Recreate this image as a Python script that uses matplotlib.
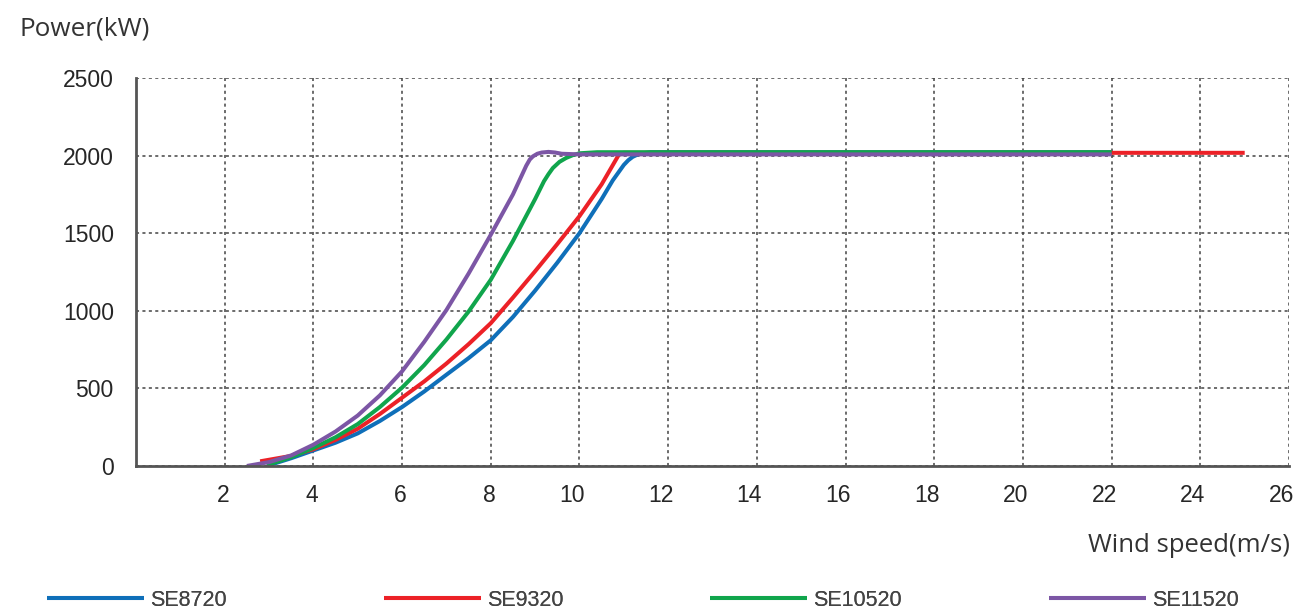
import matplotlib.pyplot as plt
import matplotlib.transforms as mtransforms

# power curves (wind speed m/s -> kW)
se8720_ws = [3.0, 3.5, 4.0, 4.5, 5.0, 5.5, 6.0, 6.5, 7.0, 7.5, 8.0, 8.5, 9.0, 9.5, 10.0, 10.5, 10.75, 10.9, 11.0, 11.1, 11.2, 11.35, 11.6, 22.0]
se8720_kw = [5, 50, 100, 150, 210, 290, 380, 480, 588, 695, 810, 960, 1130, 1310, 1500, 1720, 1840, 1900, 1940, 1970, 1992, 2012, 2022, 2022]

se9320_ws = [2.8, 3.0, 3.5, 4.0, 4.5, 5.0, 5.5, 6.0, 6.5, 7.0, 7.5, 8.0, 8.5, 9.0, 9.5, 10.0, 10.5, 10.9, 11.0, 25.0]
se9320_kw = [30, 40, 65, 108, 168, 240, 335, 440, 545, 660, 785, 920, 1085, 1255, 1430, 1610, 1815, 2012, 2018, 2018]

se10520_ws = [2.95, 3.5, 4.0, 4.5, 5.0, 5.5, 6.0, 6.5, 7.0, 7.5, 8.0, 8.5, 9.0, 9.2, 9.3, 9.4, 9.55, 9.7, 9.85, 10.0, 10.4, 22.0]
se10520_kw = [5, 57, 116, 185, 270, 380, 505, 650, 815, 995, 1200, 1450, 1720, 1835, 1880, 1920, 1960, 1985, 2003, 2015, 2022, 2022]

se11520_ws = [2.5, 3.0, 3.5, 4.0, 4.5, 5.0, 5.5, 6.0, 6.5, 7.0, 7.5, 8.0, 8.5, 8.8, 8.88, 8.95, 9.05, 9.15, 9.3, 9.45, 9.6, 10.0, 22.0]
se11520_kw = [0, 25, 68, 137, 222, 325, 455, 610, 800, 1005, 1240, 1490, 1750, 1935, 1975, 1995, 2012, 2020, 2024, 2020, 2012, 2008, 2008]

names = ["SE8720", "SE9320", "SE10520", "SE11520"]
colors = ["#0f6fb9", "#ec2127", "#10a54c", "#7c56a5"]
legend_centers = [137, 474, 806, 1144]  # pixel centres of the legend entries

x_ticks = [2, 4, 6, 8, 10, 12, 14, 16, 18, 20, 22, 24, 26]
y_ticks = [0, 500, 1000, 1500, 2000, 2500]

fig = plt.figure(figsize=(12.95, 6.12), dpi=100)
ax = fig.add_axes([0.105, 0.2386, 0.8904, 0.6339])

series = [(se8720_ws, se8720_kw), (se9320_ws, se9320_kw),
          (se10520_ws, se10520_kw), (se11520_ws, se11520_kw)]
handles = []
for (ws, kw), name, c in zip(series, names, colors):
    h, = ax.plot(ws, kw, color=c, lw=2.9, label=name, solid_capstyle="butt")
    handles.append(h)

ax.set_xlim(0, 26)
ax.set_ylim(0, 2500)
ax.set_xticks(x_ticks)
ax.set_yticks(y_ticks)
ax.grid(True, color="#444444", lw=1.1, linestyle=(0, (2, 2.2)))
ax.set_axisbelow(True)

for s in ["top", "right"]:
    ax.spines[s].set_visible(False)
for s in ["left", "bottom"]:
    ax.spines[s].set_color("#555555")
    ax.spines[s].set_linewidth(2)

ax.tick_params(length=0, labelsize=16.5, labelcolor="#262626")
ax.tick_params(axis="x", pad=13)
ax.tick_params(axis="y", pad=16)
for lab in ax.get_yticklabels():
    lab.set_fontfamily("Liberation Sans")
# x labels sit right-aligned just past their grid line
shift = mtransforms.ScaledTranslation(0.05, 0, fig.dpi_scale_trans)
for lab in ax.get_xticklabels():
    lab.set_fontfamily("Liberation Sans")
    lab.set_ha("right")
    lab.set_transform(lab.get_transform() + shift)

fig.text(20 / 1295, 1 - 29 / 612, "Power(kW)", fontsize=18.8, color="#333333",
         family="Open Sans", ha="left", va="center")
fig.text(1290 / 1295, 1 - 545 / 612, "Wind speed(m/s)", fontsize=18.5, color="#333333",
         family="Open Sans", ha="right", va="center")

for h, name, cx in zip(handles, names, legend_centers):
    leg = fig.legend([h], [name], loc="center", bbox_to_anchor=(cx / 1295, 1 - 600 / 612),
                     frameon=False, borderpad=0, borderaxespad=0, handlelength=4.5,
                     handletextpad=0.3, prop={"family": "Liberation Sans", "size": 15.5})
    leg.get_texts()[0].set_color("#444444")
    fig.add_artist(leg)

fig.savefig("out.png", dpi=100)
